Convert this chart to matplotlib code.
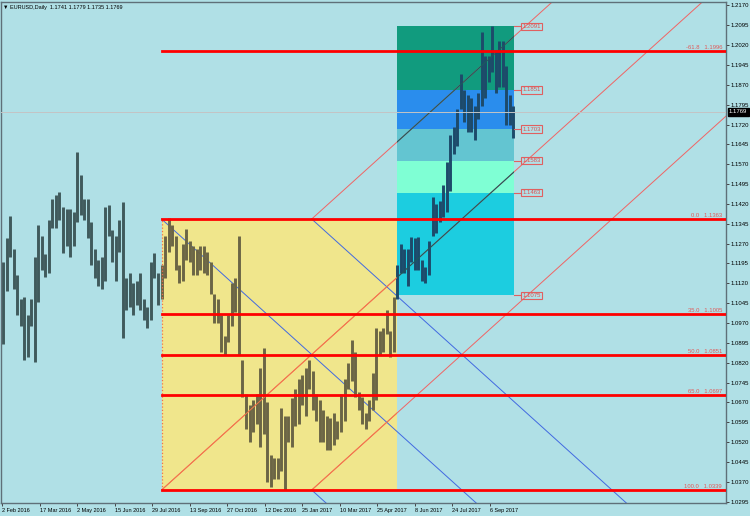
import matplotlib.pyplot as plt
import numpy as np
from matplotlib.patches import Rectangle

plt.rcParams['font.family'] = ['Liberation Sans', 'DejaVu Sans']

# EURUSD daily, high / low of every 3 bars (bar 0 = 2 Feb 2016)
grp_low = [1.0890, 1.1090, 1.1220, 1.1100, 1.1000, 1.0960, 1.0830, 1.0840, 1.0960, 1.0822,
           1.1050, 1.1170, 1.1145, 1.1160, 1.1330, 1.1330, 1.1360, 1.1235, 1.1260, 1.1220,
           1.1260, 1.1350, 1.1380, 1.1360, 1.1290, 1.1190, 1.1140, 1.1110, 1.1100, 1.1130,
           1.1300, 1.1200, 1.1130, 1.1240, 1.0912, 1.1020, 1.1030, 1.0999, 1.1040, 1.1020,
           1.0980, 1.0952, 1.0980, 1.1140, 1.1040, 1.1060, 1.1140, 1.1240, 1.1260, 1.1170,
           1.1120, 1.1130, 1.1210, 1.1200, 1.1150, 1.1150, 1.1170, 1.1160, 1.1150, 1.1080,
           1.0970, 1.0970, 1.0860, 1.0850, 1.0900, 1.0960, 1.1010, 1.0850, 1.0690, 1.0570,
           1.0520, 1.0560, 1.0590, 1.0500, 1.0550, 1.0370, 1.0352, 1.0380, 1.0380, 1.0410,
           1.0340, 1.0520, 1.0500, 1.0580, 1.0590, 1.0660, 1.0620, 1.0720, 1.0640, 1.0600,
           1.0520, 1.0520, 1.0490, 1.0490, 1.0510, 1.0530, 1.0560, 1.0600, 1.0720, 1.0750,
           1.0690, 1.0640, 1.0590, 1.0570, 1.0600, 1.0640, 1.0680, 1.0850, 1.0860, 1.0930,
           1.0840, 1.0860, 1.1060, 1.1160, 1.1160, 1.1110, 1.1200, 1.1170, 1.1170, 1.1130,
           1.1120, 1.1150, 1.1300, 1.1310, 1.1350, 1.1370, 1.1390, 1.1470, 1.1610, 1.1640,
           1.1780, 1.1730, 1.1690, 1.1690, 1.1660, 1.1740, 1.1790, 1.1820, 1.1880, 1.1920,
           1.1840, 1.1860, 1.1860, 1.1717, 1.1720, 1.1669]
grp_high = [1.1200, 1.1290, 1.1376, 1.1250, 1.1150, 1.1060, 1.1070, 1.1000, 1.1060, 1.1218,
            1.1342, 1.1300, 1.1230, 1.1360, 1.1438, 1.1455, 1.1465, 1.1410, 1.1400, 1.1400,
            1.1390, 1.1616, 1.1530, 1.1440, 1.1440, 1.1350, 1.1250, 1.1210, 1.1220, 1.1410,
            1.1416, 1.1320, 1.1300, 1.1360, 1.1427, 1.1140, 1.1160, 1.1120, 1.1130, 1.1160,
            1.1060, 1.1030, 1.1200, 1.1234, 1.1160, 1.1190, 1.1300, 1.1366, 1.1340, 1.1300,
            1.1190, 1.1270, 1.1327, 1.1280, 1.1260, 1.1250, 1.1260, 1.1260, 1.1240, 1.1200,
            1.1080, 1.1060, 1.1000, 1.0920, 1.1000, 1.1120, 1.1140, 1.1300, 1.0830, 1.0700,
            1.0660, 1.0680, 1.0700, 1.0800, 1.0874, 1.0670, 1.0470, 1.0460, 1.0460, 1.0650,
            1.0620, 1.0620, 1.0685, 1.0720, 1.0760, 1.0775, 1.0800, 1.0830, 1.0790, 1.0700,
            1.0680, 1.0640, 1.0620, 1.0610, 1.0630, 1.0600, 1.0700, 1.0760, 1.0820, 1.0906,
            1.0860, 1.0710, 1.0690, 1.0630, 1.0680, 1.0780, 1.0950, 1.0940, 1.0950, 1.1020,
            1.0940, 1.1070, 1.1190, 1.1270, 1.1250, 1.1250, 1.1296, 1.1290, 1.1295, 1.1210,
            1.1180, 1.1280, 1.1445, 1.1420, 1.1430, 1.1490, 1.1580, 1.1680, 1.1710, 1.1777,
            1.1910, 1.1850, 1.1830, 1.1820, 1.1790, 1.1840, 1.2070, 1.1980, 1.1980, 1.2092,
            1.2000, 1.2035, 1.2035, 1.1940, 1.1830, 1.1790]

tick_bars = [0, 32, 64, 96, 128, 160, 192, 224, 256, 288, 320, 352, 384, 416]
tick_dates = ['2 Feb 2016', '17 Mar 2016', '2 May 2016', '15 Jun 2016', '29 Jul 2016',
              '13 Sep 2016', '27 Oct 2016', '12 Dec 2016', '25 Jan 2017', '10 Mar 2017',
              '25 Apr 2017', '8 Jun 2017', '24 Jul 2017', '6 Sep 2017']
price_ticks = [1.2170, 1.2095, 1.2020, 1.1945, 1.1870, 1.1795, 1.1720, 1.1645, 1.1570,
               1.1495, 1.1420, 1.1345, 1.1270, 1.1195, 1.1120, 1.1045, 1.0970, 1.0895,
               1.0820, 1.0745, 1.0670, 1.0595, 1.0520, 1.0445, 1.0370, 1.0295]

fibo_levels = [-61.8, 0.0, 35.0, 50.0, 65.0, 100.0]
fibo_prices = [1.1996, 1.1363, 1.1005, 1.0851, 1.0697, 1.0339]

expo_prices = [1.1075, 1.1463, 1.1583, 1.1703, 1.1851, 1.2091]
expo_colors = ['#1ccde0', '#7fffd4', '#63c5d1', '#2a8ded', '#119b7e']

gann_bars = [136, 264]
gann_step = 0.0004
box_end = 336.7
expo_end = 436.5
last_price = 1.1769

BG = '#b0e0e6'
fig = plt.figure(figsize=(7.5, 5.16), dpi=100, facecolor=BG)
ax = fig.add_axes([1 / 750, 13 / 516, 725 / 750, 501 / 516], facecolor=BG)
ax.set_xlim(-0.85, 617.2)
ax.set_ylim(1.0290, 1.2183)

hi, lo = fibo_prices[1], fibo_prices[-1]
# yellow box of the retracement
ybox = Rectangle((gann_bars[0], lo), box_end - gann_bars[0], hi - lo,
                 facecolor='#f0e68c', edgecolor='none', zorder=1)
ax.add_patch(ybox)
ax.plot([gann_bars[0]] * 2, [lo, hi], ls=':', color='#f07050', lw=0.9, zorder=3)

# expansion bands
for i in range(len(expo_colors)):
    ax.add_patch(Rectangle((box_end, expo_prices[i]), expo_end - box_end,
                           expo_prices[i + 1] - expo_prices[i],
                           facecolor=expo_colors[i], edgecolor='none', zorder=1))
clip_box = Rectangle((box_end, expo_prices[0]), expo_end - box_end,
                     expo_prices[-1] - expo_prices[0], facecolor='none', edgecolor='none')
ax.add_patch(clip_box)

# gann grid
xr = 620
gann = [(gann_bars[0], lo, 1), (gann_bars[1], lo, 1), (gann_bars[1], hi, 1),
        (gann_bars[0], hi, -1), (gann_bars[1], hi, -1), (gann_bars[1], lo, -1)]
for b, p, d in gann:
    xs = [b, xr]
    ys = [p, p + d * gann_step * (xr - b)]
    ax.plot(xs, ys, color='#f06464' if d > 0 else '#4169e1', lw=0.7, zorder=2)
    ln, = ax.plot(xs, ys, color='#1b5a5e', lw=0.8, zorder=2.5)
    ln.set_clip_path(clip_box)
    if d > 0:
        ln2, = ax.plot(xs, ys, color='#f47848', lw=0.7, zorder=2.5)
        ln2.set_clip_path(ybox)

# price bars
centers = np.arange(len(grp_low)) * 3 + 1
cols = np.where(centers < gann_bars[0], '#405a5c',
                np.where(centers < box_end, '#6b6545', '#1d4a6a'))
ax.vlines(centers, grp_low, grp_high, colors=cols, lw=2.1, zorder=2.2)

# retracement lines
for lvl, p in zip(fibo_levels, fibo_prices):
    ax.plot([gann_bars[0], xr], [p, p], color='#ff0000', lw=2, zorder=3)
    ax.annotate(f'{lvl:.1f}   {p:.4f}', (1, p), xycoords=('axes fraction', 'data'),
                xytext=(-4, 1), textcoords='offset pixels', ha='right', va='bottom',
                fontsize=4.2, color='#e05a5a', zorder=4)

# expansion labels
for p in expo_prices:
    ax.plot([expo_end, expo_end + 6], [p, p], color='#e06060', lw=0.8, zorder=3)
    ax.text(expo_end + 7, p, f'{p:.4f}', fontsize=4.3, color='#e05050', va='center',
            ha='left', zorder=4,
            bbox=dict(boxstyle='square,pad=0.2', fc='none', ec='#e06060', lw=0.8))

# bid line
ax.axhline(last_price, color='#c4c4c4', lw=0.7, zorder=3.5)
ax.annotate(f'{last_price:.4f}', (1, last_price), xycoords=('axes fraction', 'data'),
            xytext=(3, 0), textcoords='offset pixels', ha='left', va='center',
            fontsize=4.3, color='white', annotation_clip=False,
            bbox=dict(boxstyle='square,pad=0.25', fc='black', ec='black'))

ax.yaxis.tick_right()
ax.set_yticks(price_ticks)
ax.set_yticklabels([f'{p:.4f}' for p in price_ticks])
ax.set_xticks(tick_bars)
ax.set_xticklabels(tick_dates)
plt.setp(ax.get_xticklabels(), ha='left')
ax.tick_params(axis='both', direction='out', length=2.5, width=0.7, color='#444444',
               labelsize=4.0, pad=1)
ax.tick_params(axis='y', labelsize=4.3)
for sp in ax.spines.values():
    sp.set_color('#5f7079')
    sp.set_linewidth(1)

fig.text(3 / 750, 1 - 7 / 516, '\u25bc EURUSD,Daily  1.1741 1.1779 1.1735 1.1769',
         fontsize=4.0, va='center', ha='left', color='black')

fig.savefig('out.png', dpi=100, facecolor=BG)
